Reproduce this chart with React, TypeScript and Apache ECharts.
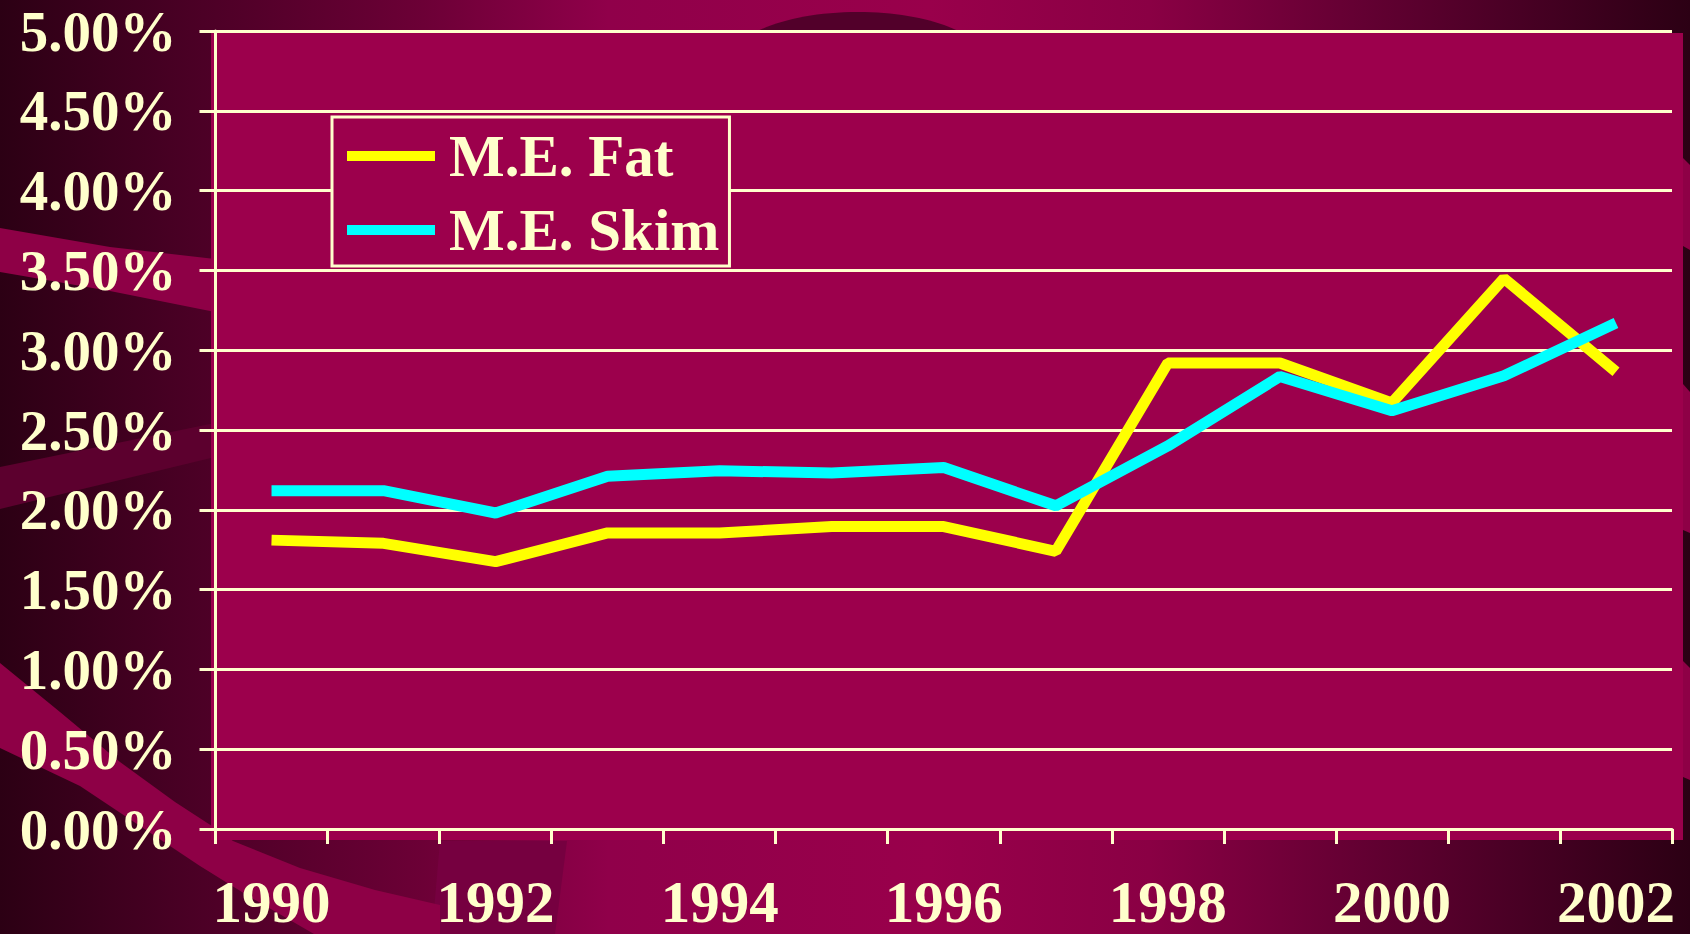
import React, { useEffect, useRef } from 'react';
import * as echarts from 'echarts';

// ---- data ----
const years = ['1990', '1991', '1992', '1993', '1994', '1995', '1996', '1997', '1998', '1999', '2000', '2001', '2002'];
const fatValues = [1.81, 1.79, 1.675, 1.855, 1.855, 1.895, 1.895, 1.74, 2.92, 2.92, 2.67, 3.45, 2.865];
const skimValues = [2.12, 2.12, 1.98, 2.21, 2.245, 2.23, 2.265, 2.025, 2.4, 2.835, 2.62, 2.84, 3.17];
const seriesNames = ['M.E. Fat', 'M.E. Skim'];
const yMin = 0;
const yMax = 5;
const yStep = 0.5;

const CREAM = '#ffffcc';
const PLOT = '#9c004c';
const FONT = '"Liberation Serif", "Times New Roman", serif';

const bgGradient = {
  type: 'linear', x: 0, y: 0, x2: 1, y2: 0,
  colorStops: [
    { offset: 0, color: '#2c0014' },
    { offset: 0.12, color: '#4c0026' },
    { offset: 0.25, color: '#6c0036' },
    { offset: 0.36, color: '#90004a' },
    { offset: 0.55, color: '#99004b' },
    { offset: 0.68, color: '#8a0044' },
    { offset: 0.8, color: '#650033' },
    { offset: 0.9, color: '#480024' },
    { offset: 1, color: '#2c0014' },
  ],
};

function buildOption() {
  const deco: any[] = [
    { type: 'rect', z: -100, silent: true, shape: { x: 0, y: 0, width: 1690, height: 934 }, style: { fill: bgGradient } },
    { type: 'polygon', z: -100, silent: true, shape: { points: [[0, 228], [110, 247], [215, 259], [215, 312], [110, 291], [0, 272]] }, style: { fill: '#8e0046' } },
    { type: 'polygon', z: -100, silent: true, shape: { points: [[0, 467], [215, 423], [215, 457], [0, 509]] }, style: { fill: '#5c002e' } },
    { type: 'polygon', z: -100, silent: true, shape: { points: [[440, 841], [567, 841], [555, 934], [432, 934]] }, style: { fill: '#760040' } },
    {
      type: 'polygon', z: -100, silent: true,
      shape: { points: [[0, 663], [60, 712], [120, 762], [175, 802], [215, 828], [233, 841], [300, 868], [375, 890], [440, 905], [440, 934], [314, 934], [250, 897], [200, 866], [140, 826], [80, 786], [0, 748]] },
      style: { fill: '#8e0046' },
    },
    { type: 'ellipse', z: -100, silent: true, shape: { cx: 858, cy: 62, rx: 128, ry: 50 }, style: { fill: '#52002a' } },
    { type: 'polygon', z: -100, silent: true, shape: { points: [[1683, 158], [1690, 165], [1690, 250], [1683, 246]] }, style: { fill: '#8e0046' } },
    { type: 'polygon', z: -100, silent: true, shape: { points: [[1683, 384], [1690, 392], [1690, 533], [1683, 530]] }, style: { fill: '#8e0046' } },
    { type: 'polygon', z: -100, silent: true, shape: { points: [[1683, 661], [1690, 668], [1690, 780], [1683, 777]] }, style: { fill: '#8e0046' } },
    { type: 'rect', z: -100, silent: true, shape: { x: 211, y: 33, width: 1472, height: 807 }, style: { fill: PLOT } },
  ];

  return {
    animation: false,
    backgroundColor: 'transparent',
    textStyle: { fontFamily: FONT },
    graphic: { elements: deco },
    grid: { left: 215.5, right: 18, top: 31, bottom: 105, containLabel: false },
    legend: {
      data: seriesNames,
      orient: 'vertical',
      left: 332,
      top: 117,
      padding: [7, 10, 4, 15],
      itemGap: 10,
      itemWidth: 88,
      itemHeight: 10,
      icon: 'rect',
      backgroundColor: PLOT,
      borderColor: CREAM,
      borderWidth: 3,
      borderRadius: 0,
      textStyle: {
        color: CREAM,
        fontSize: 59,
        fontWeight: 'bold',
        fontFamily: FONT,
        lineHeight: 64,
        padding: [0, 0, 0, 9],
      },
    },
    xAxis: {
      type: 'category',
      data: years,
      boundaryGap: true,
      axisLine: { show: true, lineStyle: { color: CREAM, width: 3 } },
      axisTick: { show: true, interval: 0, length: 15, lineStyle: { color: CREAM, width: 3 } },
      axisLabel: {
        interval: 1,
        margin: 50,
        color: CREAM,
        fontSize: 59,
        fontWeight: 'bold',
        fontFamily: FONT,
        lineHeight: 46,
      },
      splitLine: { show: false },
    },
    yAxis: {
      type: 'value',
      min: yMin,
      max: yMax,
      interval: yStep,
      axisLine: { show: true, lineStyle: { color: CREAM, width: 3 } },
      axisTick: { show: true, length: 16, lineStyle: { color: CREAM, width: 3 } },
      axisLabel: {
        margin: 39,
        color: CREAM,
        fontSize: 57,
        fontWeight: 'bold',
        fontFamily: FONT,
        lineHeight: 52,
        formatter: (v: number) => v.toFixed(2) + '%',
      },
      splitLine: { show: true, lineStyle: { color: CREAM, width: 3 } },
    },
    series: [
      {
        name: seriesNames[0],
        type: 'line',
        data: fatValues,
        color: '#ffff00',
        symbol: 'none',
        lineStyle: { color: '#ffff00', width: 11, join: 'bevel' },
      },
      {
        name: seriesNames[1],
        type: 'line',
        data: skimValues,
        color: '#00ffff',
        symbol: 'none',
        lineStyle: { color: '#00ffff', width: 11, join: 'bevel' },
      },
    ],
  };
}

export default function App() {
  const ref = useRef<HTMLDivElement>(null);
  useEffect(() => {
    if (!ref.current) return;
    const chart = echarts.init(ref.current, null, { renderer: 'svg' });
    chart.setOption(buildOption() as any);
    return () => chart.dispose();
  }, []);
  return (
    <div
      ref={ref}
      style={{ position: 'fixed', left: 0, top: 0, width: 1690, height: 934, overflow: 'hidden' }}
    />
  );
}
